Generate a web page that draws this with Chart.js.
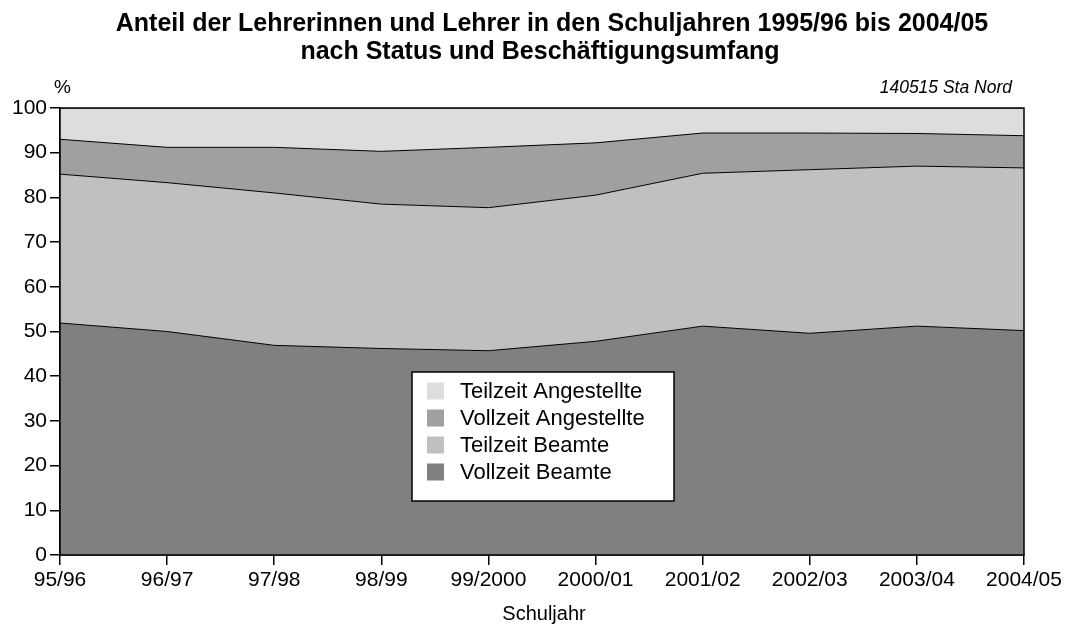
<!DOCTYPE html>
<html>
<head>
<meta charset="utf-8">
<script src="https://cdn.jsdelivr.net/npm/chart.js@4/dist/chart.umd.min.js"></script>
<style>
  body { margin: 0; background: #fff; }
  #wrap { width: 1069px; height: 626px; }
</style>
</head>
<body>
<div id="wrap"><canvas id="chart" width="1069" height="626"></canvas></div>
<script>
// Schuljahre
const years = ["95/96", "96/97", "97/98", "98/99", "99/2000", "2000/01", "2001/02", "2002/03", "2003/04", "2004/05"];

// Anteile in % (gestapelt, von unten nach oben)
const vollzeitBeamte      = [51.9, 50.0, 46.9, 46.2, 45.7, 47.8, 51.2, 49.6, 51.2, 50.2];
const teilzeitBeamte      = [33.3, 33.3, 34.1, 32.3, 32.0, 32.7, 34.2, 36.6, 35.8, 36.4];
const vollzeitAngestellte = [ 7.8,  7.9, 10.2, 11.8, 13.5, 11.7,  9.0,  8.2,  7.3,  7.2];
const teilzeitAngestellte = [ 7.0,  8.8,  8.8,  9.7,  8.8,  7.8,  5.6,  5.6,  5.7,  6.2];

const titleLines = ["Anteil der Lehrerinnen und Lehrer in den Schuljahren 1995/96 bis 2004/05",
                    "nach Status und Beschäftigungsumfang"];
const unitLabel = "%";
const sourceNote = "140515 Sta Nord";
const xAxisTitle = "Schuljahr";

const FONT = "'Liberation Sans', Arial, Helvetica, sans-serif";

function area(label, data, color, fill) {
    return {
        label: label,
        data: data,
        backgroundColor: color,
        borderColor: "#000",
        borderWidth: 1,
        pointRadius: 0,
        tension: 0,
        fill: fill
    };
}

// Rahmen, Titel und Legende im Diagramm
const decorations = {
    id: "decorations",
    afterDatasetsDraw(chart) {
        const ctx = chart.ctx;
        const a = chart.chartArea;
        ctx.save();
        ctx.strokeStyle = "#000";
        ctx.lineWidth = 1.5;
        ctx.strokeRect(a.left, a.top, a.right - a.left, a.bottom - a.top);

        // Legende
        const box = { x: 412, y: 372, w: 262, h: 129 };
        ctx.fillStyle = "#fff";
        ctx.fillRect(box.x, box.y, box.w, box.h);
        ctx.strokeRect(box.x, box.y, box.w, box.h);
        const items = chart.data.datasets.slice().reverse();
        ctx.font = "22px " + FONT;
        ctx.textBaseline = "middle";
        ctx.textAlign = "left";
        items.forEach((ds, i) => {
            const cy = box.y + 19 + i * 27;
            ctx.fillStyle = ds.backgroundColor;
            ctx.fillRect(box.x + 15, cy - 8.5, 17, 17);
            ctx.fillStyle = "#000";
            ctx.fillText(ds.label, box.x + 48, cy + 1);
        });
        ctx.restore();
    },
    afterDraw(chart) {
        const ctx = chart.ctx;
        ctx.save();
        ctx.fillStyle = "#000";
        ctx.textBaseline = "middle";
        ctx.textAlign = "center";
        ctx.font = "bold 25px " + FONT;
        ctx.fillText(titleLines[0], 552, 24);
        ctx.fillText(titleLines[1], 540, 52);

        ctx.font = "19px " + FONT;
        ctx.textAlign = "left";
        ctx.fillText(unitLabel, 54, 88);

        ctx.font = "italic 17.5px " + FONT;
        ctx.textAlign = "right";
        ctx.fillText(sourceNote, 1012, 88);

        ctx.font = "20px " + FONT;
        ctx.textAlign = "center";
        ctx.fillText(xAxisTitle, 544, 614);
        ctx.restore();
    }
};

new Chart(document.getElementById("chart"), {
    type: "line",
    data: {
        labels: years,
        datasets: [
            area("Vollzeit Beamte", vollzeitBeamte, "#808080", "origin"),
            area("Teilzeit Beamte", teilzeitBeamte, "#c0c0c0", "-1"),
            area("Vollzeit Angestellte", vollzeitAngestellte, "#a0a0a0", "-1"),
            area("Teilzeit Angestellte", teilzeitAngestellte, "#dddddd", "-1")
        ]
    },
    options: {
        responsive: false,
        devicePixelRatio: 1,
        animation: false,
        layout: { padding: { top: 108, right: 45, left: 0, bottom: 0 } },
        plugins: {
            legend: { display: false },
            title: { display: false },
            tooltip: { enabled: false }
        },
        scales: {
            x: {
                offset: false,
                grid: { drawOnChartArea: false, color: "#000", lineWidth: 1.5, tickLength: 10 },
                border: { color: "#000", width: 1.5 },
                ticks: { color: "#000", font: { family: FONT, size: 21 }, maxRotation: 0, autoSkip: false, padding: 3 },
                afterFit(scale) { scale.height = 71; }
            },
            y: {
                stacked: true,
                min: 0,
                max: 100,
                grid: { drawOnChartArea: false, color: "#000", lineWidth: 1.5, tickLength: 10 },
                border: { color: "#000", width: 1.5 },
                ticks: { stepSize: 10, color: "#000", font: { family: FONT, size: 21 }, padding: 3 },
                afterFit(scale) { scale.width = 60; }
            }
        }
    },
    plugins: [decorations]
});
</script>
</body>
</html>
